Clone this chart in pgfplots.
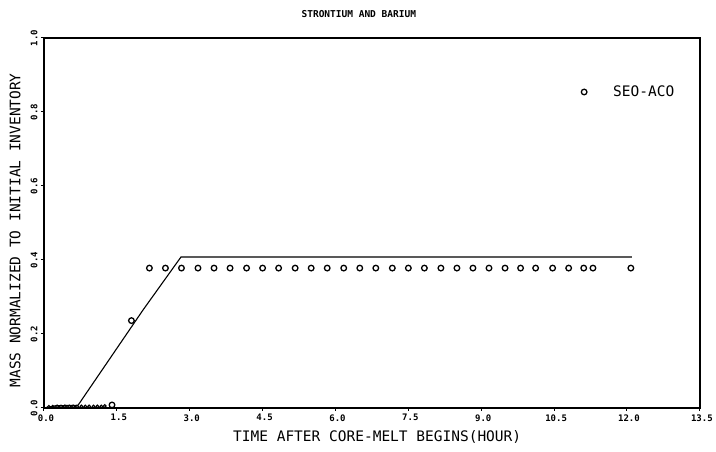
\documentclass[border=0pt]{standalone}
\usepackage{fontspec}
\setmainfont{DejaVu Sans Mono}
\usepackage{pgfplots}
\pgfplotsset{compat=1.18}
\usetikzlibrary{calc}

% model curve (solid line)
\pgfplotstableread{
x y
0.00 0.000
0.25 0.006
0.70 0.007
2.04 0.265
2.82 0.408
12.10 0.408
}\modeldata

% SEQ-ACQ measurements
\pgfplotstableread{
x y
1.40 0.008
1.80 0.236
2.17 0.378
2.50 0.378
2.83 0.378
3.17 0.378
3.50 0.378
3.83 0.378
4.17 0.378
4.50 0.378
4.83 0.378
5.17 0.378
5.50 0.378
5.83 0.378
6.17 0.378
6.50 0.378
6.83 0.378
7.17 0.378
7.50 0.378
7.83 0.378
8.17 0.378
8.50 0.378
8.83 0.378
9.16 0.378
9.49 0.378
9.81 0.378
10.12 0.378
10.47 0.378
10.80 0.378
11.11 0.378
11.30 0.378
12.08 0.378
}\seqdata

% early small readings
\pgfplotstableread{
x y
0.10 0.003
0.18 0.003
0.27 0.004
0.35 0.004
0.43 0.004
0.52 0.004
0.60 0.004
0.68 0.004
0.77 0.004
0.85 0.004
0.93 0.004
1.02 0.004
1.10 0.004
1.18 0.004
1.25 0.005
}\earlydata

\begin{document}
\begin{tikzpicture}
\begin{axis}[
    scale only axis,
    width=656pt, height=370pt,
    xmin=0, xmax=13.5, ymin=0, ymax=1,
    xtick={0,1.5,3,4.5,6,7.5,9,10.5,12,13.5},
    xticklabels={0.0,1.5,3.0,4.5,6.0,7.5,9.0,10.5,12.0,13.5},
    ytick={0,0.2,0.4,0.6,0.8,1},
    yticklabels={0.0,0.2,0.4,0.6,0.8,1.0},
    axis line style={line width=1.8pt},
    tick style={line width=1pt, black},
    major tick length=3pt,
    tick align=outside,
    xtick pos=bottom, ytick pos=left,
    every tick label/.append style={font=\bfseries\fontsize{9}{9}\selectfont},
    xticklabel style={xshift=2pt},
    yticklabel style={rotate=90, anchor=south},
    xlabel={TIME AFTER CORE-MELT BEGINS(HOUR)},
    ylabel={MASS NORMALIZED TO INITIAL INVENTORY},
    title={STRONTIUM AND BARIUM},
    every axis x label/.style={at={(rel axis cs:0.508,0)}, yshift=-29pt, anchor=center,
        font=\fontsize{14.5}{14.5}\selectfont},
    every axis y label/.style={at={(rel axis cs:0,0.48)}, xshift=-29pt, rotate=90, anchor=center,
        font=\fontsize{14.5}{14.5}\selectfont},
    every axis title/.style={at={(rel axis cs:0.48,1)}, yshift=24pt, anchor=center,
        font=\bfseries\fontsize{9.5}{9.5}\selectfont},
    legend image code/.code={
        \path[draw=none] (-5pt,0) -- (27pt,0);
        \draw[#1] plot coordinates {(0pt,0pt)};
    },
    legend style={draw=none, fill=none, at={(axis cs:10.95,0.854)}, anchor=west,
        font=\fontsize{14.5}{14.5}\selectfont},
    clip=false,
]
\addplot[black, line width=1.1pt, forget plot] table[x=x, y=y] {\modeldata};
\addplot[only marks, mark=o, mark size=2.8pt, mark options={line width=1.3pt, black}]
    table[x=x, y=y] {\seqdata};
\addlegendentry{SEO-ACO}
\addplot[only marks, mark=o, mark size=1.4pt, mark options={line width=1pt, black}, forget plot]
    table[x=x, y=y] {\earlydata};
\end{axis}
\path ($(current axis.south west)+(-44pt,-44pt)$) rectangle ($(current axis.north east)+(16pt,38pt)$);
\end{tikzpicture}
\end{document}
